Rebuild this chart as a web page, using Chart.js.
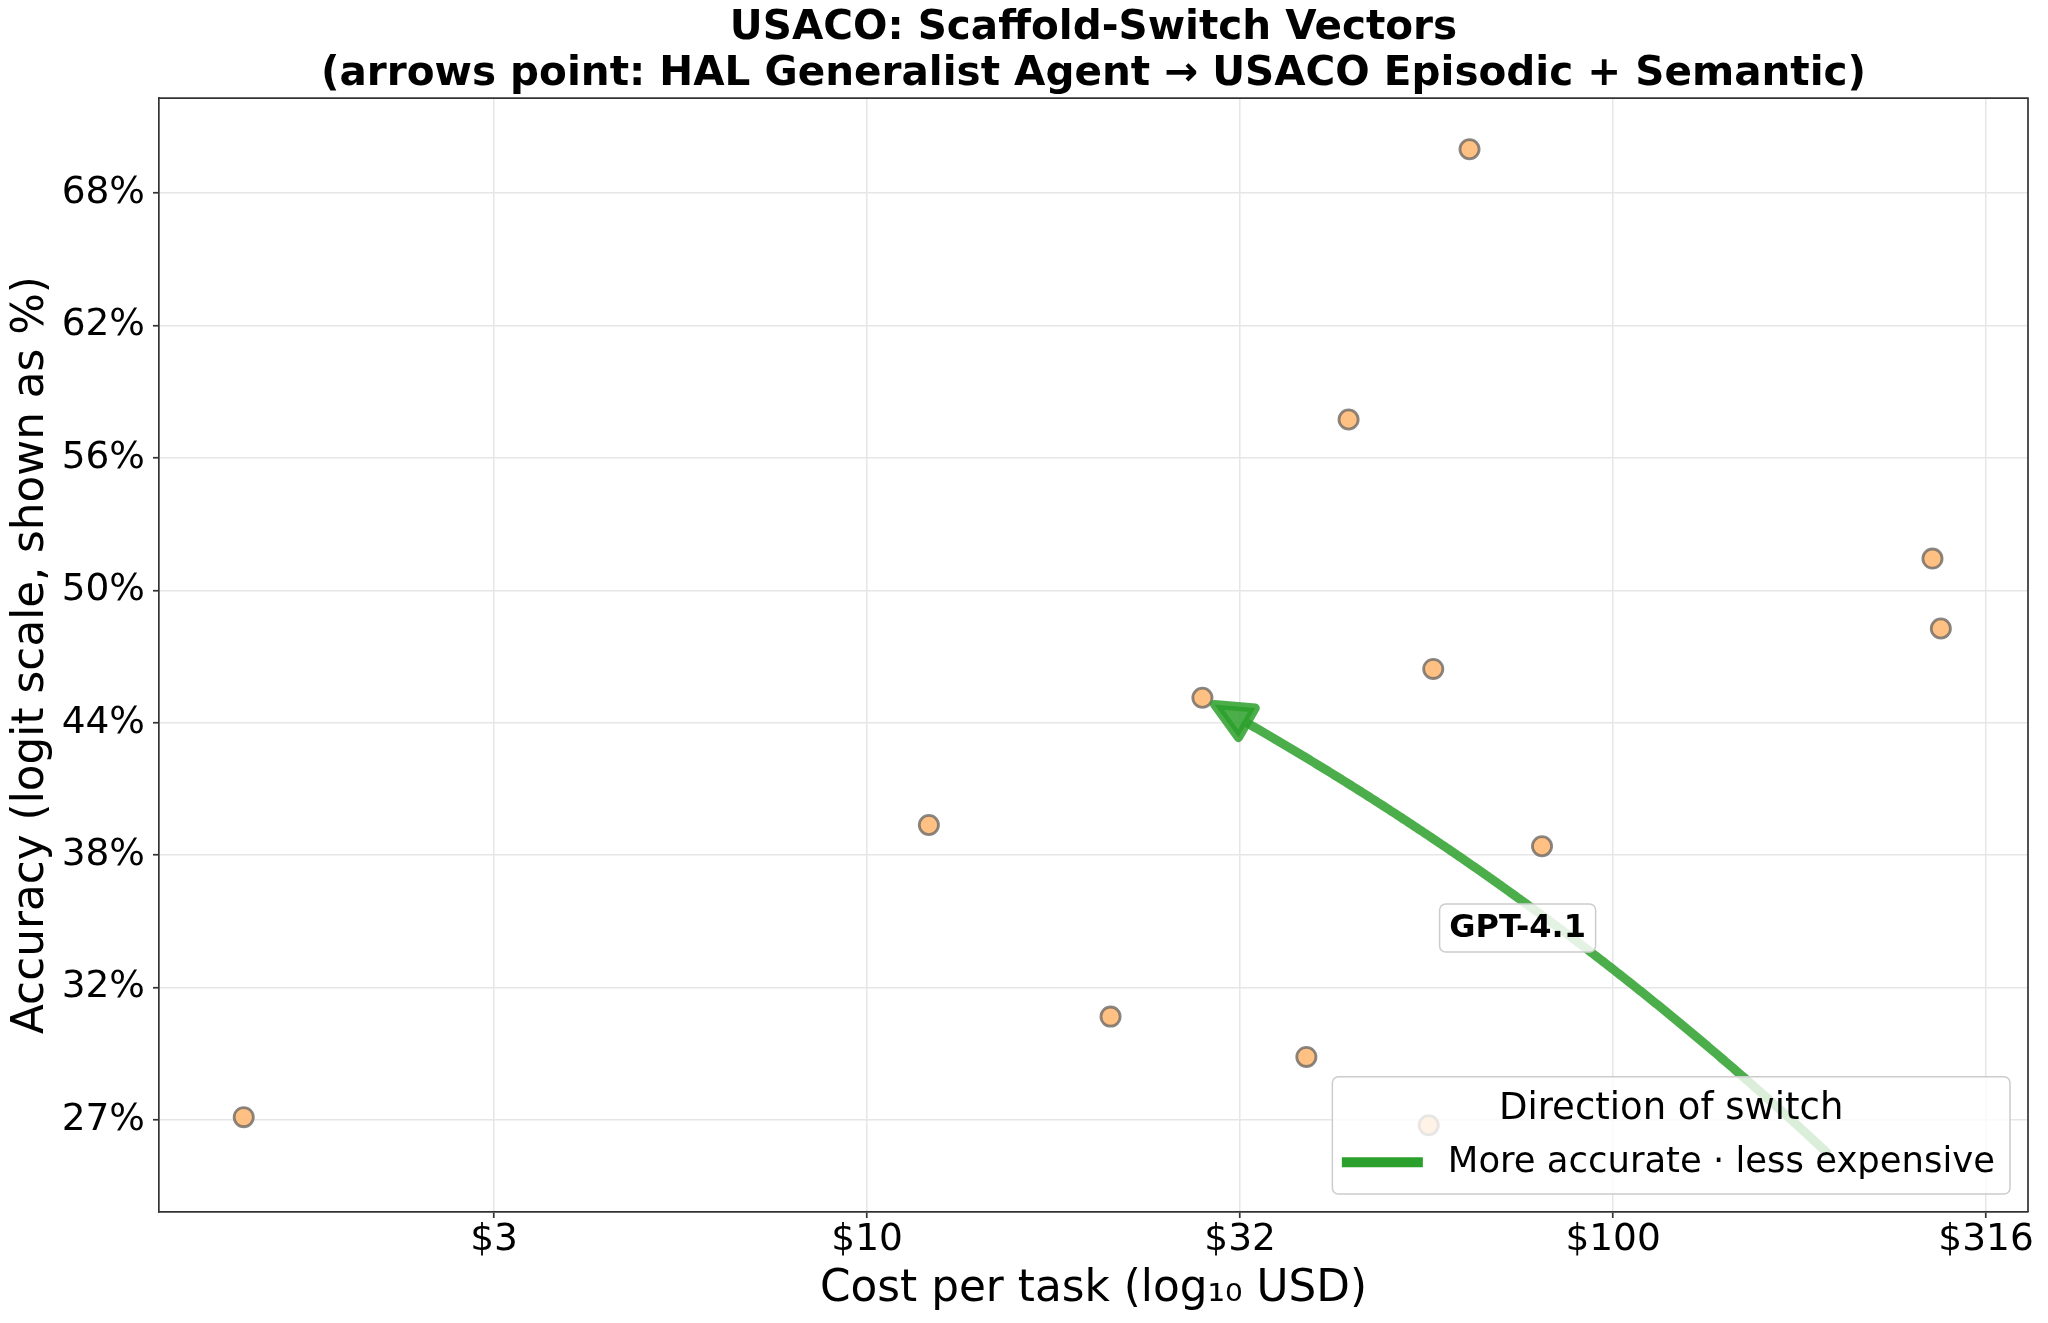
<!DOCTYPE html>
<html>
<head>
<meta charset="utf-8">
<script src="https://cdn.jsdelivr.net/npm/chart.js@4.4.0/dist/chart.umd.min.js"></script>
<style>
  html, body { margin: 0; padding: 0; background: #fff; }
  #wrap { width: 2048px; height: 1323px; }
</style>
</head>
<body>
<div id="wrap"><canvas id="chart" width="2048" height="1323"></canvas></div>
<script>
// USACO Episodic + Semantic runs: cost per task (USD) and accuracy (%)
var costUSD = [1.46, 12.1, 21.2, 28.15, 38.8, 44.2, 56.6, 57.4, 64.2, 80.3, 268, 275];
var accuracyPct = [27.0, 39.1, 30.9, 44.95, 29.3, 58.0, 26.7, 46.3, 69.7, 38.15, 51.5, 48.2];

// scaffold switch, HAL Generalist Agent -> USACO Episodic + Semantic
var switchModels = ["GPT-4.1"];
var switchFromCost = [197];
var switchFromAcc = [25.5];
var switchToCost = [28.15];
var switchToAcc = [44.95];

var xTickValues = [3.162, 10, 31.62, 100, 316.2];
var xTickLabels = ["$3", "$10", "$32", "$100", "$316"];
var yTickLogits = [-1, -0.75, -0.5, -0.25, 0, 0.25, 0.5, 0.75];

var legendTitle = "Direction of switch";
var legendEntry = "More accurate \u00b7 less expensive";

var GREEN = "#2ca02c";
var GREEN_A = "rgba(44,160,44,0.85)";

function logit(p) { return Math.log(p / (1 - p)); }
function sigmoid(v) { return 1 / (1 + Math.exp(-v)); }
function dist(a, b) { return Math.hypot(a.x - b.x, a.y - b.y); }

Chart.defaults.font.family = "'DejaVu Sans', sans-serif";
Chart.defaults.color = "#000";

// arrows, their labels, the outer frame and the legend box
var switchPlugin = {
  id: "switchArrows",
  afterDatasetsDraw: function (chart) {
    var ctx = chart.ctx, xs = chart.scales.x, ys = chart.scales.y, area = chart.chartArea;
    ctx.save();

    // top + right spines
    ctx.strokeStyle = "#333";
    ctx.lineWidth = 1.7;
    ctx.beginPath();
    ctx.moveTo(area.left, area.top);
    ctx.lineTo(area.right, area.top);
    ctx.lineTo(area.right, area.bottom);
    ctx.stroke();

    switchModels.forEach(function (name, i) {
      var A = { x: xs.getPixelForValue(switchFromCost[i]), y: ys.getPixelForValue(logit(switchFromAcc[i] / 100)) };
      var B = { x: xs.getPixelForValue(switchToCost[i]), y: ys.getPixelForValue(logit(switchToAcc[i] / 100)) };
      var rad = 0.063;
      var C = { x: (A.x + B.x) / 2 + rad * (A.y - B.y), y: (A.y + B.y) / 2 + rad * (B.x - A.x) };
      var n = 400, pts = [];
      for (var k = 0; k <= n; k++) {
        var t = k / n, a = (1 - t) * (1 - t), b = 2 * t * (1 - t), c = t * t;
        pts.push({ x: a * A.x + b * C.x + c * B.x, y: a * A.y + b * C.y + c * B.y });
      }
      var i0 = 0; while (dist(pts[i0], A) < 4) i0++;
      var i1 = n; while (dist(pts[i1], B) < 12) i1--;
      var tip = pts[i1];
      var i2 = i1; while (dist(pts[i2], tip) < 37) i2--;
      var base = pts[i2];
      var d = dist(tip, base), ux = (tip.x - base.x) / d, uy = (tip.y - base.y) / d;
      var hw = 17;

      ctx.strokeStyle = GREEN_A;
      ctx.fillStyle = GREEN_A;
      ctx.lineWidth = 9;
      ctx.lineCap = "butt";
      ctx.lineJoin = "round";
      ctx.beginPath();
      ctx.moveTo(pts[i0].x, pts[i0].y);
      for (var m = i0 + 1; m <= i2; m++) ctx.lineTo(pts[m].x, pts[m].y);
      ctx.stroke();

      ctx.beginPath();
      ctx.moveTo(tip.x, tip.y);
      ctx.lineTo(base.x - uy * hw, base.y + ux * hw);
      ctx.lineTo(base.x + uy * hw, base.y - ux * hw);
      ctx.closePath();
      ctx.fill();
      ctx.stroke();

      // model label at the middle of the switch
      var mx = (A.x + B.x) / 2, my = (A.y + B.y) / 2;
      ctx.font = "bold 32px 'DejaVu Sans'";
      var w = ctx.measureText(name).width;
      ctx.beginPath();
      ctx.roundRect(mx - w / 2 - 9.6, my - 24, w + 19.2, 48, 6);
      ctx.fillStyle = "rgba(255,255,255,0.85)";
      ctx.fill();
      ctx.strokeStyle = "#cccccc";
      ctx.lineWidth = 1.5;
      ctx.stroke();
      ctx.fillStyle = "#000";
      ctx.textAlign = "center";
      ctx.textBaseline = "middle";
      ctx.fillText(name, mx, my + 1);
    });

    // legend, lower right
    ctx.font = "35.4px 'DejaVu Sans'";
    var tw = ctx.measureText(legendEntry).width;
    var lgW = 9.5 + 81 + 25 + tw + 15, lgH = 117.3;
    var lgR = area.right - 18, lgB = area.bottom - 18;
    var lgL = lgR - lgW, lgT = lgB - lgH;
    ctx.beginPath();
    ctx.roundRect(lgL, lgT, lgW, lgH, 6);
    ctx.fillStyle = "rgba(255,255,255,0.8)";
    ctx.fill();
    ctx.strokeStyle = "#cccccc";
    ctx.lineWidth = 1.5;
    ctx.stroke();

    ctx.fillStyle = "#000";
    ctx.textBaseline = "middle";
    ctx.textAlign = "center";
    ctx.font = "37px 'DejaVu Sans'";
    ctx.fillText(legendTitle, lgL + lgW / 2, lgT + 33);

    ctx.strokeStyle = GREEN;
    ctx.lineWidth = 10;
    ctx.lineCap = "butt";
    ctx.beginPath();
    ctx.moveTo(lgL + 9.5, lgT + 85.5);
    ctx.lineTo(lgL + 90.5, lgT + 85.5);
    ctx.stroke();

    ctx.textAlign = "left";
    ctx.font = "35.4px 'DejaVu Sans'";
    ctx.fillText(legendEntry, lgL + 115.5, lgT + 86);

    ctx.restore();
  }
};

var gridOpts = { color: "#e6e6e6", lineWidth: 1.5, tickColor: "#333", tickLength: 6, tickWidth: 1.7 };
var borderOpts = { color: "#333", width: 1.7 };

var ctx = document.getElementById("chart").getContext("2d");
var chart = new Chart(ctx, {
  type: "scatter",
  data: {
    datasets: [
      {
        label: "USACO Episodic + Semantic",
        data: costUSD.map(function (c, i) { return { x: c, y: logit(accuracyPct[i] / 100) }; }),
        backgroundColor: "rgba(255,187,120,0.92)",
        borderColor: "rgba(110,105,100,0.8)",
        borderWidth: 2.8,
        pointRadius: 9.6
      }
    ]
  },
  options: {
    responsive: false,
    animation: false,
    devicePixelRatio: 1,
    events: [],
    layout: { padding: { left: 0, right: 20, top: 0, bottom: 0 } },
    plugins: {
      legend: { display: false },
      tooltip: { enabled: false },
      title: {
        display: true,
        fullSize: false,
        text: [
          "USACO: Scaffold-Switch Vectors",
          "(arrows point: HAL Generalist Agent \u2192 USACO Episodic + Semantic)"
        ],
        color: "#000",
        font: { size: 40.5, weight: "bold", lineHeight: 1.15 },
        padding: { top: 5, bottom: 0 }
      }
    },
    scales: {
      x: {
        type: "logarithmic",
        position: "bottom",
        min: 1.124,
        max: 359.9,
        afterBuildTicks: function (s) { s.ticks = xTickValues.map(function (v) { return { value: v }; }); },
        afterFit: function (s) { s.height = 111; },
        grid: gridOpts,
        border: borderOpts,
        ticks: {
          autoSkip: false,
          maxRotation: 0,
          padding: 0,
          font: { size: 37.5 },
          callback: function (v, i) { return xTickLabels[i]; }
        },
        title: {
          display: true,
          text: "Cost per task (log\u2081\u2080 USD)",
          font: { size: 43.75 },
          padding: { top: 0, bottom: 7 }
        }
      },
      y: {
        type: "linear",
        min: -1.1737,
        max: 0.9294,
        afterBuildTicks: function (s) { s.ticks = yTickLogits.map(function (v) { return { value: v }; }); },
        afterFit: function (s) { s.width = 159; },
        grid: gridOpts,
        border: borderOpts,
        ticks: {
          padding: 8,
          font: { size: 37.5 },
          callback: function (v) { return Math.round(100 * sigmoid(v)) + "%"; }
        },
        title: {
          display: true,
          text: "Accuracy (logit scale, shown as %)",
          font: { size: 43.75 },
          padding: { top: 5, bottom: 0 }
        }
      }
    }
  },
  plugins: [switchPlugin]
});
</script>
</body>
</html>
